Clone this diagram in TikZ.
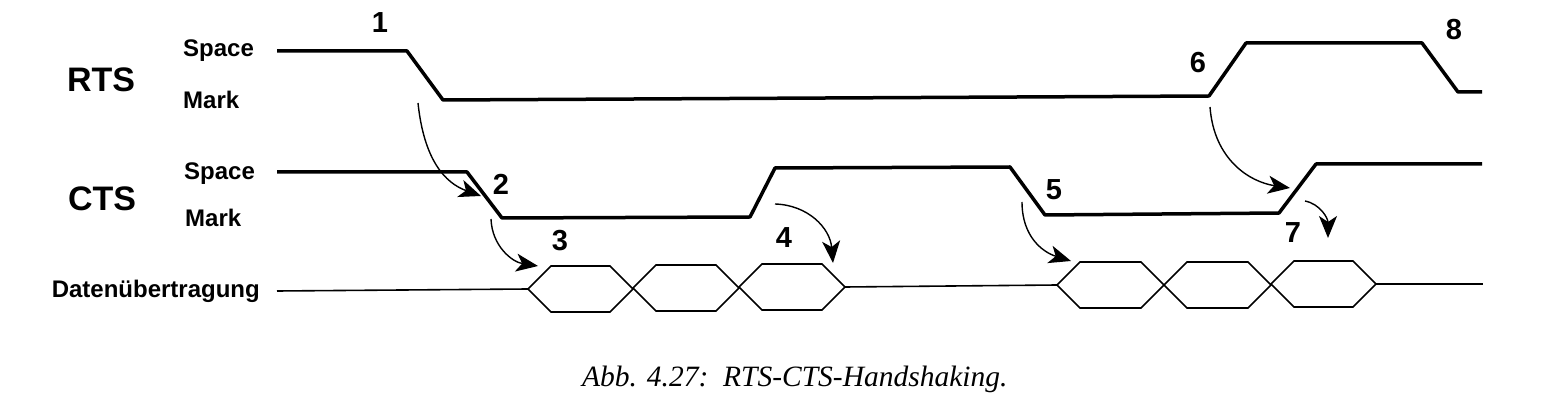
\documentclass[tikz,border=0pt]{standalone}
\usepackage{fontspec}
\newfontfamily\labfont{Liberation Sans}
\newfontfamily\capfont{Liberation Serif}
\usetikzlibrary{arrows.meta}
\begin{document}
\begin{tikzpicture}[x=1pt,y=-1pt,
  sig/.style={line width=3.5pt, line join=round},
  hexline/.style={line width=1.6pt, line join=miter},
  dline/.style={line width=1.6pt},
  cause/.style={line width=1.4pt, -{Stealth[length=22pt,width=18pt,inset=6pt]}},
  big/.style={font=\labfont\bfseries\fontsize{34}{40}\selectfont, anchor=base, inner sep=0pt},
  lvl/.style={font=\labfont\bfseries\fontsize{24}{28}\selectfont, anchor=base west, inner sep=0pt},
  num/.style={font=\labfont\bfseries\fontsize{29}{32}\selectfont, inner sep=0pt},
  captxt/.style={font=\capfont\itshape\fontsize{29.5}{36}\selectfont, anchor=base west, inner sep=0pt}
]
\useasboundingbox (0,0) rectangle (1563,411);

% labels
\node[big] (rts) at (101,92) {RTS};
\node[big] (cts) at (102,211) {CTS};
\node[lvl] (rspace) at (183,57) {Space};
\node[lvl] (rmark) at (183,109) {Mark};
\node[lvl] (cspace) at (184,180) {Space};
\node[lvl] (cmark) at (185,227) {Mark};
\node[lvl, anchor=base east] (data) at (260,298) {Datenübertragung};

% RTS signal
\draw[sig] (277,51) -- (407,51) -- (443,100) -- (1209,96) -- (1246,43)
  -- (1422,43) -- (1458,92) -- (1482,92);
% CTS signal
\draw[sig] (277,172) -- (467,172) -- (502,218) -- (750,217) -- (775,168)
  -- (1010,167) -- (1045,215) -- (1279,213) -- (1316,164) -- (1482,164);

% data line
\draw[dline] (277,291) -- (528,289);
\draw[dline] (845,287) -- (1057,285);
\draw[dline] (1376,284) -- (1483,284);
\foreach \a/\b/\c in {528/633/289, 633/739/288, 739/845/287,
                      1057/1164/285, 1164/1271/285, 1271/1376/284}
  \draw[hexline] (\a,\c) -- ({\a+23},{\c-23}) -- ({\b-23},{\c-23}) -- (\b,\c)
    -- ({\b-23},{\c+23}) -- ({\a+23},{\c+23}) -- cycle;

% numbers
\node[num] (n1) at (380,23) {1};
\node[num] (n2) at (501,184) {2};
\node[num] (n3) at (560,241) {3};
\node[num] (n4) at (784,238) {4};
\node[num] (n5) at (1054,190) {5};
\node[num] (n6) at (1198,63) {6};
\node[num] (n7) at (1293,233) {7};
\node[num] (n8) at (1454,30) {8};

% cause arrows
\coordinate (a1s) at (418,103); \coordinate (a1e) at (481,196);
\coordinate (a2s) at (491,219); \coordinate (a2e) at (538,266);
\coordinate (a3s) at (775,204); \coordinate (a3e) at (833,263);
\coordinate (a4s) at (1022,202); \coordinate (a4e) at (1071,261);
\coordinate (a5s) at (1210,107); \coordinate (a5e) at (1290,188);
\coordinate (a6s) at (1305,201); \coordinate (a6e) at (1328,238);
\draw[cause] (a1s) .. controls (424,160) and (445,183) .. (a1e);
\draw[cause] (a2s) .. controls (492,246) and (512,262) .. (a2e);
\draw[cause] (a3s) .. controls (808,205) and (830,228) .. (a3e);
\draw[cause] (a4s) .. controls (1022,236) and (1042,252) .. (a4e);
\draw[cause] (a5s) .. controls (1214,160) and (1250,182) .. (a5e);
\draw[cause] (a6s) .. controls (1320,204) and (1328,218) .. (a6e);

% caption
\node[captxt] (cap) at (582,386) {Abb. 4.27:\ \ RTS-CTS-Handshaking.};
\end{tikzpicture}
\end{document}
